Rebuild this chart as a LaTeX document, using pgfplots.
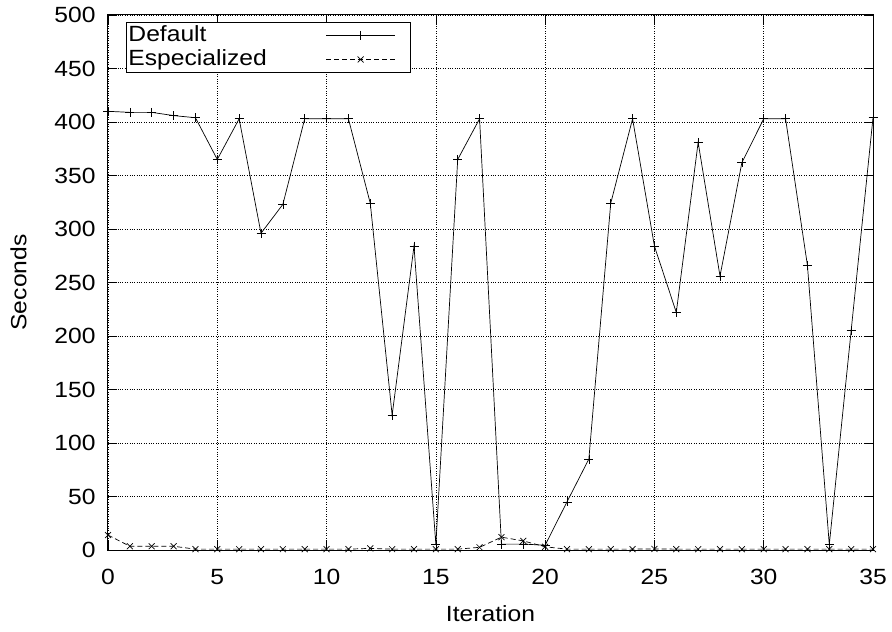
\documentclass[border=0pt]{standalone}
\usepackage{fontspec}
\setmainfont{Liberation Sans}[FakeStretch=1.12]
\usepackage{pgfplots}
\pgfplotsset{compat=1.18}
\pgfplotstableread{
x def esp
0 410 14
1 409 3.5
2 409 3.5
3 406 3.5
4 404 0.8
5 365 0.8
6 403 0.8
7 296 0.8
8 323 0.8
9 403 0.8
10 403 0.8
11 403 0.8
12 324 1.5
13 126 0.8
14 284 0.8
15 5 0.8
16 365 0.8
17 403 2.5
18 5.5 12
19 5.5 8.5
20 4.5 3
21 45 0.8
22 85 0.8
23 324 0.8
24 403 0.8
25 284 1
26 222 0.8
27 381 0.8
28 256 0.8
29 362 0.8
30 403 0.8
31 403 0.8
32 266 0.8
33 5 0.8
34 205 0.8
35 404 0.8
}\datatable
\begin{document}
\fontsize{22bp}{26bp}\selectfont
\begin{tikzpicture}
\path[use as bounding box] (-108bp,-82bp) rectangle (784bp,550bp);
\begin{axis}[
  at={(0,0)}, anchor=south west,
  scale only axis, width=765bp, height=535bp,
  xmin=0, xmax=35, ymin=0, ymax=500,
  xtick={0,5,...,35}, ytick={0,50,...,500},
  /pgf/number format/assume math mode=true,
  grid=major, major grid style={black, dotted, line width=0.5bp},
  tick align=inside, tick pos=both, major tick length=9bp,
  tick style={black, line width=0.6bp},
  axis line style={black, line width=1bp},
  clip=false,
  xlabel={Iteration}, ylabel={Seconds},
  xticklabel style={yshift=-12bp},
  yticklabel style={xshift=-5bp},
  xlabel style={yshift=-6bp},
  ylabel style={yshift=13bp},
  legend plot pos=right,
  legend cell align=left,
  legend style={at={(axis description cs:0.0235,0.987)}, anchor=north west,
    draw=black, line width=1bp, inner xsep=1bp, inner ysep=1bp, row sep=0bp, column sep=58bp,
    nodes={inner sep=1bp, text height=17bp, text depth=5bp, line width=0.7bp}},
  legend image code/.code={
    \draw[mark repeat=2, mark phase=2, #1] plot coordinates {(0bp,0bp) (34.5bp,0bp) (69bp,0bp)};
    \path (83bp,0bp);
  },
]
\addplot[black, line width=0.7bp, mark=+, mark size=4.5bp, mark options={solid}] table[x=x, y=def] {\datatable};
\addlegendentry{Default}
\addplot[black, line width=0.7bp, dash pattern=on 5bp off 3bp, mark=x, mark size=4.2bp, mark options={solid}] table[x=x, y=esp] {\datatable};
\addlegendentry{Especialized}
\end{axis}
\end{tikzpicture}
\end{document}
